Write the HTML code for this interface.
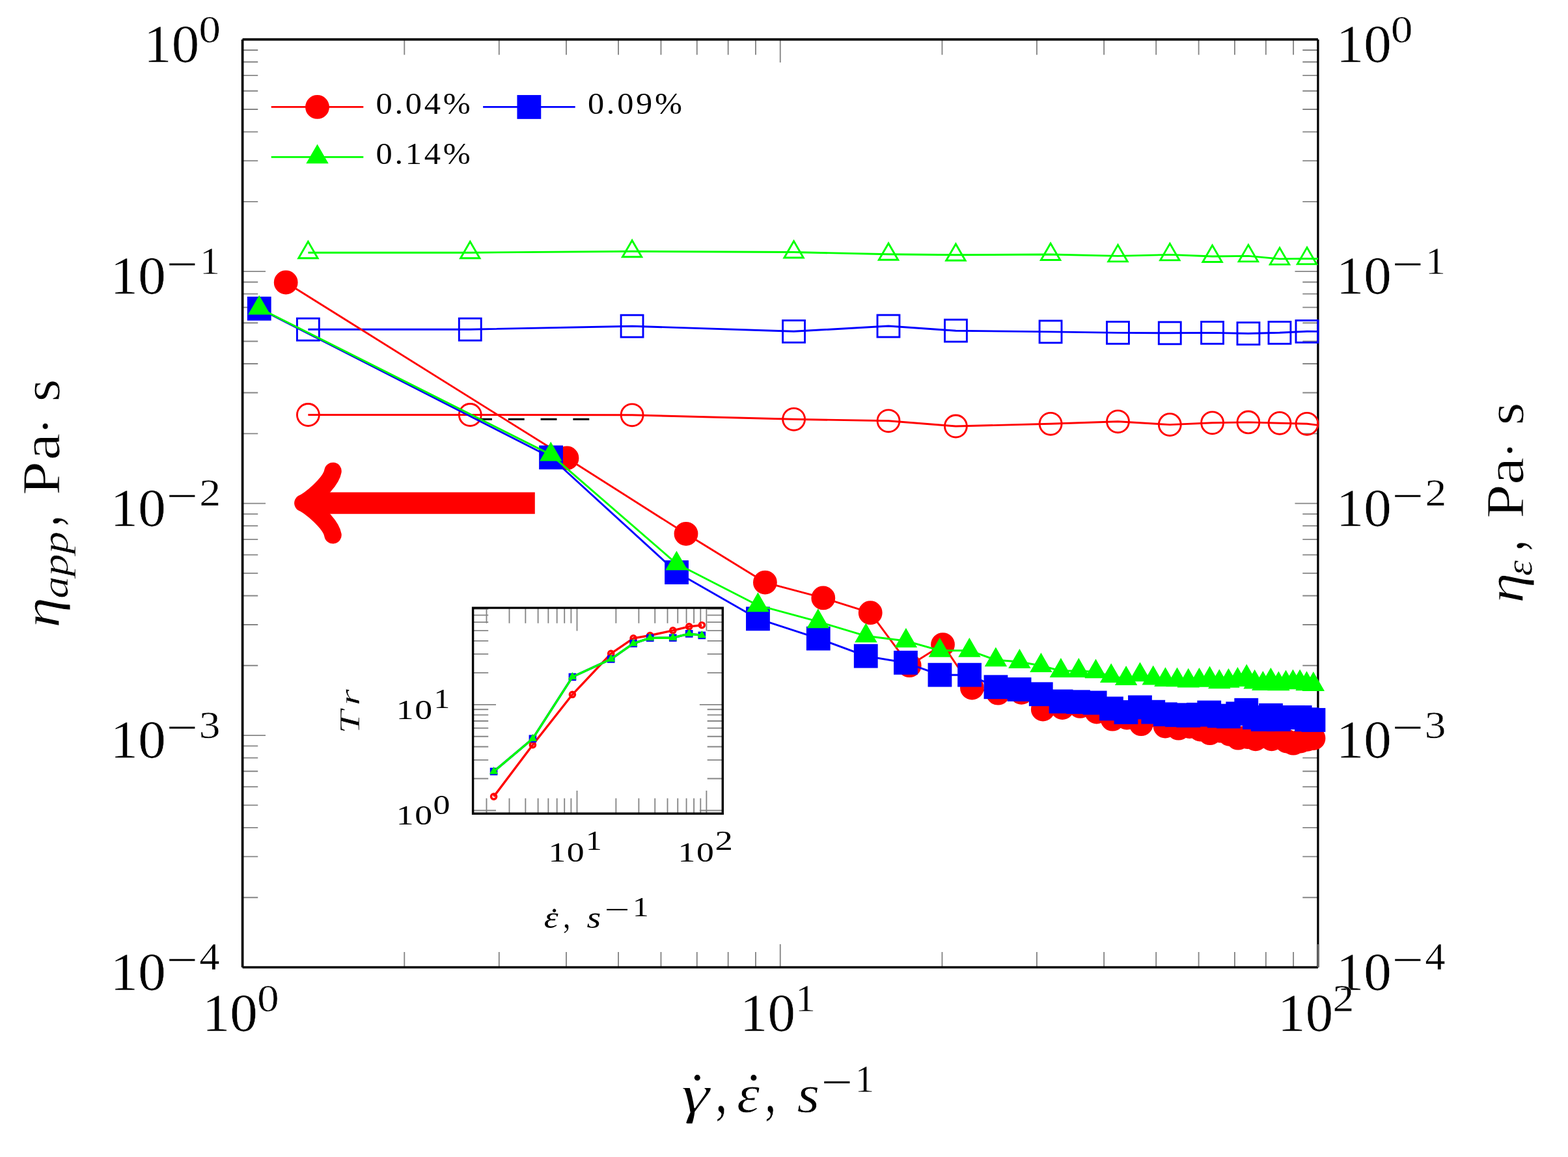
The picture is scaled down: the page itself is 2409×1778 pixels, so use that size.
<!DOCTYPE html>
<html lang="en">
<head>
<meta charset="utf-8">
<title>Apparent shear viscosity and extensional viscosity versus rate</title>
<style>
html,body{margin:0;padding:0;background:#fff;}
body{width:2409px;height:1778px;overflow:hidden;}
svg{display:block;}
text{font-kerning:none;white-space:pre;vector-effect:non-scaling-stroke;paint-order:fill stroke;}
.r{font-family:"Liberation Serif","DejaVu Serif",serif;}
.i{font-family:"Liberation Serif","DejaVu Serif",serif;font-style:italic;}
.d{font-family:"DejaVu Serif","Liberation Serif",serif;}
.di{font-family:"DejaVu Serif","Liberation Serif",serif;font-style:italic;}
</style>
</head>
<body>
<svg width="2409" height="1778" viewBox="0 0 2409 1778">
<defs>
<clipPath id="cm"><rect x="372.60" y="60.70" width="1652.30" height="1425.80"/></clipPath>
</defs>
<rect width="2409" height="1778" fill="#fff"/>
<path d="M372.60,1486.50h35.42M372.60,1130.05h35.42M372.60,773.60h35.42M372.60,417.15h35.42M372.60,60.70h35.42M372.60,1379.20h23.62M372.60,1316.43h23.62M372.60,1271.90h23.62M372.60,1237.35h23.62M372.60,1209.13h23.62M372.60,1185.26h23.62M372.60,1164.59h23.62M372.60,1146.36h23.62M372.60,1022.75h23.62M372.60,959.98h23.62M372.60,915.45h23.62M372.60,880.90h23.62M372.60,852.68h23.62M372.60,828.81h23.62M372.60,808.14h23.62M372.60,789.91h23.62M372.60,666.30h23.62M372.60,603.53h23.62M372.60,559.00h23.62M372.60,524.45h23.62M372.60,496.23h23.62M372.60,472.36h23.62M372.60,451.69h23.62M372.60,433.46h23.62M372.60,309.85h23.62M372.60,247.08h23.62M372.60,202.55h23.62M372.60,168.00h23.62M372.60,139.78h23.62M372.60,115.91h23.62M372.60,95.24h23.62M372.60,77.01h23.62M2024.90,1486.50h-35.42M2024.90,1130.05h-35.42M2024.90,773.60h-35.42M2024.90,417.15h-35.42M2024.90,60.70h-35.42M2024.90,1379.20h-23.62M2024.90,1316.43h-23.62M2024.90,1271.90h-23.62M2024.90,1237.35h-23.62M2024.90,1209.13h-23.62M2024.90,1185.26h-23.62M2024.90,1164.59h-23.62M2024.90,1146.36h-23.62M2024.90,1022.75h-23.62M2024.90,959.98h-23.62M2024.90,915.45h-23.62M2024.90,880.90h-23.62M2024.90,852.68h-23.62M2024.90,828.81h-23.62M2024.90,808.14h-23.62M2024.90,789.91h-23.62M2024.90,666.30h-23.62M2024.90,603.53h-23.62M2024.90,559.00h-23.62M2024.90,524.45h-23.62M2024.90,496.23h-23.62M2024.90,472.36h-23.62M2024.90,451.69h-23.62M2024.90,433.46h-23.62M2024.90,309.85h-23.62M2024.90,247.08h-23.62M2024.90,202.55h-23.62M2024.90,168.00h-23.62M2024.90,139.78h-23.62M2024.90,115.91h-23.62M2024.90,95.24h-23.62M2024.90,77.01h-23.62M372.60,60.70v35.42M1198.75,60.70v35.42M2024.90,60.70v35.42M621.30,60.70v23.62M766.77,60.70v23.62M869.99,60.70v23.62M950.05,60.70v23.62M1015.47,60.70v23.62M1070.78,60.70v23.62M1118.69,60.70v23.62M1160.95,60.70v23.62M1447.45,60.70v23.62M1592.92,60.70v23.62M1696.14,60.70v23.62M1776.20,60.70v23.62M1841.62,60.70v23.62M1896.93,60.70v23.62M1944.84,60.70v23.62M1987.10,60.70v23.62M372.60,1486.50v-35.42M1198.75,1486.50v-35.42M2024.90,1486.50v-35.42M621.30,1486.50v-23.62M766.77,1486.50v-23.62M869.99,1486.50v-23.62M950.05,1486.50v-23.62M1015.47,1486.50v-23.62M1070.78,1486.50v-23.62M1118.69,1486.50v-23.62M1160.95,1486.50v-23.62M1447.45,1486.50v-23.62M1592.92,1486.50v-23.62M1696.14,1486.50v-23.62M1776.20,1486.50v-23.62M1841.62,1486.50v-23.62M1896.93,1486.50v-23.62M1944.84,1486.50v-23.62M1987.10,1486.50v-23.62" stroke="#858585" stroke-width="1.85" fill="none"/>
<path d="M372.60,1486.50V60.70M372.60,60.70H2024.90M2024.90,1486.50H372.60" fill="none" stroke="#000" stroke-width="3.70"/>
<path d="M2024.90,60.70V1486.50" fill="none" stroke="#000" stroke-width="3.30"/>
<path d="M2024.90,1486.50v-35.42" stroke="#6a6a6a" stroke-width="2.32"/>
<polyline clip-path="url(#cm)" points="473.4,637.5 722.3,637.5 971.1,637.8 1219.6,644.3 1365.0,646.8 1468.4,655.0 1614.1,651.3 1717.5,647.8 1797.3,652.6 1862.6,649.8 1917.9,648.9 1966.0,650.3 2008.0,651.3 2046.0,656.0" fill="none" stroke="#ff0000" stroke-width="2.90" stroke-linejoin="round"/>
<g stroke="#ff0000" stroke-width="2.90" stroke-linejoin="miter" stroke-miterlimit="10">
<circle cx="473.4" cy="637.5" r="16.95" fill="none"/>
<circle cx="722.3" cy="637.5" r="16.95" fill="none"/>
<circle cx="971.1" cy="637.8" r="16.95" fill="none"/>
<circle cx="1219.6" cy="644.3" r="16.95" fill="none"/>
<circle cx="1365.0" cy="646.8" r="16.95" fill="none"/>
<circle cx="1468.4" cy="655.0" r="16.95" fill="none"/>
<circle cx="1614.1" cy="651.3" r="16.95" fill="none"/>
<circle cx="1717.5" cy="647.8" r="16.95" fill="none"/>
<circle cx="1797.3" cy="652.6" r="16.95" fill="none"/>
<circle cx="1862.6" cy="649.8" r="16.95" fill="none"/>
<circle cx="1917.9" cy="648.9" r="16.95" fill="none"/>
<circle cx="1966.0" cy="650.3" r="16.95" fill="none"/>
<circle cx="2008.0" cy="651.3" r="16.95" fill="none"/>
</g>
<polyline clip-path="url(#cm)" points="473.4,506.2 722.3,506.2 971.1,501.2 1219.6,509.3 1365.0,501.0 1468.4,508.2 1614.1,509.9 1717.5,511.4 1797.3,511.8 1862.6,511.4 1917.9,512.5 1966.0,511.3 2008.0,509.3 2046.0,509.5" fill="none" stroke="#0000ff" stroke-width="2.90" stroke-linejoin="round"/>
<g stroke="#0000ff" stroke-width="2.90" stroke-linejoin="miter" stroke-miterlimit="10">
<rect x="456.4" y="489.3" width="33.90" height="33.90" fill="none"/>
<rect x="705.3" y="489.3" width="33.90" height="33.90" fill="none"/>
<rect x="954.1" y="484.2" width="33.90" height="33.90" fill="none"/>
<rect x="1202.6" y="492.4" width="33.90" height="33.90" fill="none"/>
<rect x="1348.0" y="484.1" width="33.90" height="33.90" fill="none"/>
<rect x="1451.5" y="491.2" width="33.90" height="33.90" fill="none"/>
<rect x="1597.1" y="492.9" width="33.90" height="33.90" fill="none"/>
<rect x="1700.5" y="494.4" width="33.90" height="33.90" fill="none"/>
<rect x="1780.3" y="494.9" width="33.90" height="33.90" fill="none"/>
<rect x="1845.6" y="494.4" width="33.90" height="33.90" fill="none"/>
<rect x="1901.0" y="495.6" width="33.90" height="33.90" fill="none"/>
<rect x="1949.0" y="494.4" width="33.90" height="33.90" fill="none"/>
<rect x="1991.0" y="492.4" width="33.90" height="33.90" fill="none"/>
</g>
<polyline clip-path="url(#cm)" points="473.4,388.2 722.3,388.2 971.1,386.3 1219.6,387.5 1365.0,390.8 1468.4,391.8 1614.1,391.0 1717.5,393.4 1797.3,391.4 1862.6,394.0 1917.9,393.4 1966.0,397.9 2008.0,397.4 2046.0,398.0" fill="none" stroke="#00ff00" stroke-width="2.90" stroke-linejoin="round"/>
<g stroke="#00ff00" stroke-width="2.90" stroke-linejoin="miter" stroke-miterlimit="10">
<polygon points="473.4,371.3 458.7,396.7 488.1,396.7" fill="none"/>
<polygon points="722.3,371.3 707.6,396.7 737.0,396.7" fill="none"/>
<polygon points="971.1,369.4 956.4,394.8 985.8,394.8" fill="none"/>
<polygon points="1219.6,370.6 1204.9,396.0 1234.3,396.0" fill="none"/>
<polygon points="1365.0,373.9 1350.3,399.3 1379.7,399.3" fill="none"/>
<polygon points="1468.4,374.9 1453.7,400.3 1483.1,400.3" fill="none"/>
<polygon points="1614.1,374.1 1599.4,399.5 1628.8,399.5" fill="none"/>
<polygon points="1717.5,376.4 1702.8,401.9 1732.2,401.9" fill="none"/>
<polygon points="1797.3,374.4 1782.6,399.9 1812.0,399.9" fill="none"/>
<polygon points="1862.6,377.1 1847.9,402.5 1877.3,402.5" fill="none"/>
<polygon points="1917.9,376.4 1903.2,401.9 1932.6,401.9" fill="none"/>
<polygon points="1966.0,380.9 1951.3,406.4 1980.7,406.4" fill="none"/>
<polygon points="2008.0,380.4 1993.3,405.9 2022.7,405.9" fill="none"/>
</g>
<path d="M731,644.2H905.4" stroke="#000" stroke-width="2.90" stroke-dasharray="24.9 24.9" fill="none"/>
<polyline points="439.2,434.0 871.0,704.0 1054.0,820.3 1175.4,895.1 1264.8,918.9 1337.2,941.7 1397.2,1022.7 1448.5,990.6 1493.4,1057.0 1533.3,1065.2 1569.3,1064.3 1602.3,1090.0 1632.2,1087.6 1659.5,1085.4 1684.8,1094.0 1709.2,1105.2 1731.2,1103.1 1753.2,1112.7 1773.0,1099.0 1790.2,1116.0 1810.6,1119.2 1827.5,1116.5 1844.0,1121.0 1858.8,1126.7 1874.5,1123.0 1889.0,1128.3 1902.2,1134.2 1916.5,1132.5 1929.0,1135.8 1941.5,1131.0 1953.7,1135.8 1965.5,1133.0 1976.7,1139.0 1987.0,1142.2 1998.2,1139.0 2008.6,1136.3 2018.0,1134.5" fill="none" stroke="#ff0000" stroke-width="2.90" stroke-linejoin="round"/>
<g stroke="#ff0000" stroke-width="2.90" stroke-linejoin="miter" stroke-miterlimit="10">
<circle cx="439.2" cy="434.0" r="16.95" fill="#ff0000"/>
<circle cx="871.0" cy="704.0" r="16.95" fill="#ff0000"/>
<circle cx="1054.0" cy="820.3" r="16.95" fill="#ff0000"/>
<circle cx="1175.4" cy="895.1" r="16.95" fill="#ff0000"/>
<circle cx="1264.8" cy="918.9" r="16.95" fill="#ff0000"/>
<circle cx="1337.2" cy="941.7" r="16.95" fill="#ff0000"/>
<circle cx="1397.2" cy="1022.7" r="16.95" fill="#ff0000"/>
<circle cx="1448.5" cy="990.6" r="16.95" fill="#ff0000"/>
<circle cx="1493.4" cy="1057.0" r="16.95" fill="#ff0000"/>
<circle cx="1533.3" cy="1065.2" r="16.95" fill="#ff0000"/>
<circle cx="1569.3" cy="1064.3" r="16.95" fill="#ff0000"/>
<circle cx="1602.3" cy="1090.0" r="16.95" fill="#ff0000"/>
<circle cx="1632.2" cy="1087.6" r="16.95" fill="#ff0000"/>
<circle cx="1659.5" cy="1085.4" r="16.95" fill="#ff0000"/>
<circle cx="1684.8" cy="1094.0" r="16.95" fill="#ff0000"/>
<circle cx="1709.2" cy="1105.2" r="16.95" fill="#ff0000"/>
<circle cx="1731.2" cy="1103.1" r="16.95" fill="#ff0000"/>
<circle cx="1753.2" cy="1112.7" r="16.95" fill="#ff0000"/>
<circle cx="1773.0" cy="1099.0" r="16.95" fill="#ff0000"/>
<circle cx="1790.2" cy="1116.0" r="16.95" fill="#ff0000"/>
<circle cx="1810.6" cy="1119.2" r="16.95" fill="#ff0000"/>
<circle cx="1827.5" cy="1116.5" r="16.95" fill="#ff0000"/>
<circle cx="1844.0" cy="1121.0" r="16.95" fill="#ff0000"/>
<circle cx="1858.8" cy="1126.7" r="16.95" fill="#ff0000"/>
<circle cx="1874.5" cy="1123.0" r="16.95" fill="#ff0000"/>
<circle cx="1889.0" cy="1128.3" r="16.95" fill="#ff0000"/>
<circle cx="1902.2" cy="1134.2" r="16.95" fill="#ff0000"/>
<circle cx="1916.5" cy="1132.5" r="16.95" fill="#ff0000"/>
<circle cx="1929.0" cy="1135.8" r="16.95" fill="#ff0000"/>
<circle cx="1941.5" cy="1131.0" r="16.95" fill="#ff0000"/>
<circle cx="1953.7" cy="1135.8" r="16.95" fill="#ff0000"/>
<circle cx="1965.5" cy="1133.0" r="16.95" fill="#ff0000"/>
<circle cx="1976.7" cy="1139.0" r="16.95" fill="#ff0000"/>
<circle cx="1987.0" cy="1142.2" r="16.95" fill="#ff0000"/>
<circle cx="1998.2" cy="1139.0" r="16.95" fill="#ff0000"/>
<circle cx="2008.6" cy="1136.3" r="16.95" fill="#ff0000"/>
<circle cx="2018.0" cy="1134.5" r="16.95" fill="#ff0000"/>
</g>
<polyline points="398.2,474.2 846.6,703.0 1039.6,879.6 1164.5,950.9 1257.3,981.2 1330.3,1008.2 1391.5,1018.4 1443.9,1037.2 1489.6,1037.2 1530.0,1055.7 1566.1,1059.5 1599.3,1066.7 1630.1,1078.0 1656.4,1078.7 1682.2,1080.0 1707.4,1089.0 1729.9,1094.5 1751.5,1086.9 1771.7,1094.2 1790.3,1097.7 1808.5,1098.7 1825.7,1099.5 1841.5,1098.3 1857.7,1095.0 1873.3,1100.1 1887.5,1100.9 1901.7,1096.7 1914.8,1091.3 1927.6,1102.5 1940.3,1105.5 1952.5,1099.3 1964.4,1105.5 1975.5,1102.5 1986.4,1102.5 1997.2,1102.5 2007.5,1105.7 2018.0,1106.5" fill="none" stroke="#0000ff" stroke-width="2.90" stroke-linejoin="round"/>
<g stroke="#0000ff" stroke-width="2.90" stroke-linejoin="miter" stroke-miterlimit="10">
<rect x="381.3" y="457.3" width="33.90" height="33.90" fill="#0000ff"/>
<rect x="829.6" y="686.0" width="33.90" height="33.90" fill="#0000ff"/>
<rect x="1022.6" y="862.6" width="33.90" height="33.90" fill="#0000ff"/>
<rect x="1147.5" y="933.9" width="33.90" height="33.90" fill="#0000ff"/>
<rect x="1240.3" y="964.2" width="33.90" height="33.90" fill="#0000ff"/>
<rect x="1313.3" y="991.2" width="33.90" height="33.90" fill="#0000ff"/>
<rect x="1374.5" y="1001.4" width="33.90" height="33.90" fill="#0000ff"/>
<rect x="1427.0" y="1020.2" width="33.90" height="33.90" fill="#0000ff"/>
<rect x="1472.6" y="1020.2" width="33.90" height="33.90" fill="#0000ff"/>
<rect x="1513.0" y="1038.8" width="33.90" height="33.90" fill="#0000ff"/>
<rect x="1549.1" y="1042.5" width="33.90" height="33.90" fill="#0000ff"/>
<rect x="1582.3" y="1049.8" width="33.90" height="33.90" fill="#0000ff"/>
<rect x="1613.1" y="1061.0" width="33.90" height="33.90" fill="#0000ff"/>
<rect x="1639.5" y="1061.8" width="33.90" height="33.90" fill="#0000ff"/>
<rect x="1665.2" y="1063.0" width="33.90" height="33.90" fill="#0000ff"/>
<rect x="1690.5" y="1072.0" width="33.90" height="33.90" fill="#0000ff"/>
<rect x="1713.0" y="1077.5" width="33.90" height="33.90" fill="#0000ff"/>
<rect x="1734.5" y="1070.0" width="33.90" height="33.90" fill="#0000ff"/>
<rect x="1754.8" y="1077.2" width="33.90" height="33.90" fill="#0000ff"/>
<rect x="1773.3" y="1080.8" width="33.90" height="33.90" fill="#0000ff"/>
<rect x="1791.5" y="1081.8" width="33.90" height="33.90" fill="#0000ff"/>
<rect x="1808.8" y="1082.5" width="33.90" height="33.90" fill="#0000ff"/>
<rect x="1824.5" y="1081.3" width="33.90" height="33.90" fill="#0000ff"/>
<rect x="1840.8" y="1078.0" width="33.90" height="33.90" fill="#0000ff"/>
<rect x="1856.3" y="1083.1" width="33.90" height="33.90" fill="#0000ff"/>
<rect x="1870.5" y="1084.0" width="33.90" height="33.90" fill="#0000ff"/>
<rect x="1884.8" y="1079.8" width="33.90" height="33.90" fill="#0000ff"/>
<rect x="1897.8" y="1074.3" width="33.90" height="33.90" fill="#0000ff"/>
<rect x="1910.6" y="1085.5" width="33.90" height="33.90" fill="#0000ff"/>
<rect x="1923.3" y="1088.5" width="33.90" height="33.90" fill="#0000ff"/>
<rect x="1935.5" y="1082.3" width="33.90" height="33.90" fill="#0000ff"/>
<rect x="1947.5" y="1088.5" width="33.90" height="33.90" fill="#0000ff"/>
<rect x="1958.5" y="1085.5" width="33.90" height="33.90" fill="#0000ff"/>
<rect x="1969.5" y="1085.5" width="33.90" height="33.90" fill="#0000ff"/>
<rect x="1980.2" y="1085.5" width="33.90" height="33.90" fill="#0000ff"/>
<rect x="1990.5" y="1088.8" width="33.90" height="33.90" fill="#0000ff"/>
<rect x="2001.0" y="1089.5" width="33.90" height="33.90" fill="#0000ff"/>
</g>
<polyline points="398.2,473.5 846.2,698.6 1039.5,866.3 1164.4,930.2 1256.8,955.2 1330.4,977.3 1391.9,985.0 1443.8,999.7 1489.4,999.7 1529.9,1014.3 1566.4,1017.0 1599.4,1023.0 1629.9,1031.0 1657.3,1031.0 1683.5,1032.4 1707.1,1039.1 1730.1,1043.0 1751.5,1037.3 1771.7,1042.5 1790.4,1045.1 1808.5,1045.4 1825.7,1046.6 1842.5,1045.7 1858.5,1043.5 1873.3,1048.2 1887.5,1046.8 1901.4,1045.0 1915.2,1040.5 1927.6,1048.6 1940.3,1051.0 1952.4,1045.7 1964.4,1051.3 1975.5,1049.4 1986.4,1048.4 1997.1,1048.4 2007.5,1051.2 2017.8,1052.0" fill="none" stroke="#00ff00" stroke-width="2.90" stroke-linejoin="round"/>
<g stroke="#00ff00" stroke-width="2.90" stroke-linejoin="miter" stroke-miterlimit="10">
<polygon points="398.2,456.6 383.6,482.0 412.9,482.0" fill="#00ff00"/>
<polygon points="846.2,681.6 831.6,707.1 860.9,707.1" fill="#00ff00"/>
<polygon points="1039.5,849.3 1024.8,874.8 1054.2,874.8" fill="#00ff00"/>
<polygon points="1164.4,913.2 1149.7,938.7 1179.1,938.7" fill="#00ff00"/>
<polygon points="1256.8,938.2 1242.1,963.7 1271.5,963.7" fill="#00ff00"/>
<polygon points="1330.4,960.3 1315.7,985.8 1345.1,985.8" fill="#00ff00"/>
<polygon points="1391.9,968.0 1377.2,993.5 1406.6,993.5" fill="#00ff00"/>
<polygon points="1443.8,982.8 1429.1,1008.2 1458.5,1008.2" fill="#00ff00"/>
<polygon points="1489.4,982.8 1474.7,1008.2 1504.1,1008.2" fill="#00ff00"/>
<polygon points="1529.9,997.3 1515.2,1022.8 1544.6,1022.8" fill="#00ff00"/>
<polygon points="1566.4,1000.0 1551.7,1025.5 1581.1,1025.5" fill="#00ff00"/>
<polygon points="1599.4,1006.0 1584.7,1031.5 1614.1,1031.5" fill="#00ff00"/>
<polygon points="1629.9,1014.0 1615.2,1039.5 1644.6,1039.5" fill="#00ff00"/>
<polygon points="1657.3,1014.0 1642.6,1039.5 1672.0,1039.5" fill="#00ff00"/>
<polygon points="1683.5,1015.5 1668.8,1040.9 1698.2,1040.9" fill="#00ff00"/>
<polygon points="1707.1,1022.1 1692.4,1047.6 1721.8,1047.6" fill="#00ff00"/>
<polygon points="1730.1,1026.0 1715.4,1051.5 1744.8,1051.5" fill="#00ff00"/>
<polygon points="1751.5,1020.3 1736.8,1045.8 1766.2,1045.8" fill="#00ff00"/>
<polygon points="1771.7,1025.5 1757.0,1051.0 1786.4,1051.0" fill="#00ff00"/>
<polygon points="1790.4,1028.1 1775.7,1053.6 1805.1,1053.6" fill="#00ff00"/>
<polygon points="1808.5,1028.5 1793.8,1053.9 1823.2,1053.9" fill="#00ff00"/>
<polygon points="1825.7,1029.6 1811.0,1055.1 1840.4,1055.1" fill="#00ff00"/>
<polygon points="1842.5,1028.8 1827.8,1054.2 1857.2,1054.2" fill="#00ff00"/>
<polygon points="1858.5,1026.5 1843.8,1052.0 1873.2,1052.0" fill="#00ff00"/>
<polygon points="1873.3,1031.2 1858.6,1056.7 1888.0,1056.7" fill="#00ff00"/>
<polygon points="1887.5,1029.8 1872.8,1055.3 1902.2,1055.3" fill="#00ff00"/>
<polygon points="1901.4,1028.0 1886.7,1053.5 1916.1,1053.5" fill="#00ff00"/>
<polygon points="1915.2,1023.5 1900.5,1049.0 1929.9,1049.0" fill="#00ff00"/>
<polygon points="1927.6,1031.6 1912.9,1057.1 1942.3,1057.1" fill="#00ff00"/>
<polygon points="1940.3,1034.0 1925.6,1059.5 1955.0,1059.5" fill="#00ff00"/>
<polygon points="1952.4,1028.8 1937.7,1054.2 1967.1,1054.2" fill="#00ff00"/>
<polygon points="1964.4,1034.3 1949.7,1059.8 1979.1,1059.8" fill="#00ff00"/>
<polygon points="1975.5,1032.5 1960.8,1057.9 1990.2,1057.9" fill="#00ff00"/>
<polygon points="1986.4,1031.5 1971.7,1056.9 2001.1,1056.9" fill="#00ff00"/>
<polygon points="1997.1,1031.5 1982.4,1056.9 2011.8,1056.9" fill="#00ff00"/>
<polygon points="2007.5,1034.2 1992.8,1059.7 2022.2,1059.7" fill="#00ff00"/>
<polygon points="2017.8,1035.0 2003.1,1060.5 2032.5,1060.5" fill="#00ff00"/>
</g>
<path d="M821.8,773.1H472.6" stroke="#ff0000" stroke-width="33.20" fill="none"/>
<path d="M511.45,723.96C508.37,742.39 474.59,770.03 465.38,773.10C474.59,776.17 508.37,803.81 511.45,822.24" stroke="#ff0000" stroke-width="26.56" fill="none" stroke-linecap="round" stroke-linejoin="round"/>
<path d="M416.7,164.4h141.6" stroke="#ff0000" stroke-width="2.90" fill="none"/>
<g stroke="#ff0000" stroke-width="2.90"><circle cx="487.5" cy="164.4" r="16.95" fill="#ff0000"/></g>
<path d="M742.1,164.4h141.6" stroke="#0000ff" stroke-width="2.90" fill="none"/>
<g stroke="#0000ff" stroke-width="2.90"><rect x="795.9" y="147.5" width="33.90" height="33.90" fill="#0000ff"/></g>
<path d="M416.7,241.4h141.6" stroke="#00ff00" stroke-width="2.90" fill="none"/>
<g stroke="#00ff00" stroke-width="2.90"><polygon points="487.5,224.5 472.8,249.9 502.2,249.9" fill="#00ff00"/></g>
<text class="r" transform="translate(577.58,174.90) scale(1.0736,1.0000)" font-size="47.00" letter-spacing="3.45" fill="#000">0.04%</text>
<text class="r" transform="translate(902.98,174.90) scale(1.0720,1.0000)" font-size="47.00" letter-spacing="3.45" fill="#000">0.09%</text>
<text class="r" transform="translate(577.58,251.60) scale(1.0736,1.0000)" font-size="47.00" letter-spacing="3.45" fill="#000">0.14%</text>
<path d="M726.60,1245.50h35.42M726.60,1082.80h35.42M726.60,1196.52h23.62M726.60,1167.87h23.62M726.60,1147.54h23.62M726.60,1131.78h23.62M726.60,1118.89h23.62M726.60,1108.00h23.62M726.60,1098.57h23.62M726.60,1090.24h23.62M726.60,1033.82h23.62M726.60,1005.17h23.62M726.60,984.84h23.62M726.60,969.08h23.62M726.60,956.19h23.62M726.60,945.30h23.62M726.60,935.87h23.62M1110.30,1245.50h-35.42M1110.30,1082.80h-35.42M1110.30,1196.52h-23.62M1110.30,1167.87h-23.62M1110.30,1147.54h-23.62M1110.30,1131.78h-23.62M1110.30,1118.89h-23.62M1110.30,1108.00h-23.62M1110.30,1098.57h-23.62M1110.30,1090.24h-23.62M1110.30,1033.82h-23.62M1110.30,1005.17h-23.62M1110.30,984.84h-23.62M1110.30,969.08h-23.62M1110.30,956.19h-23.62M1110.30,945.30h-23.62M1110.30,935.87h-23.62M886.50,934.10v35.42M1085.40,934.10v35.42M747.47,934.10v23.62M782.50,934.10v23.62M807.35,934.10v23.62M826.63,934.10v23.62M842.37,934.10v23.62M855.69,934.10v23.62M867.22,934.10v23.62M877.40,934.10v23.62M946.37,934.10v23.62M981.40,934.10v23.62M1006.25,934.10v23.62M1025.53,934.10v23.62M1041.27,934.10v23.62M1054.59,934.10v23.62M1066.12,934.10v23.62M1076.30,934.10v23.62M886.50,1250.30v-35.42M1085.40,1250.30v-35.42M747.47,1250.30v-23.62M782.50,1250.30v-23.62M807.35,1250.30v-23.62M826.63,1250.30v-23.62M842.37,1250.30v-23.62M855.69,1250.30v-23.62M867.22,1250.30v-23.62M877.40,1250.30v-23.62M946.37,1250.30v-23.62M981.40,1250.30v-23.62M1006.25,1250.30v-23.62M1025.53,1250.30v-23.62M1041.27,1250.30v-23.62M1054.59,1250.30v-23.62M1066.12,1250.30v-23.62M1076.30,1250.30v-23.62" stroke="#858585" stroke-width="1.85" fill="none"/>
<path d="M726.60,1250.30V934.10M726.60,934.10H1110.30M1110.30,934.10V1250.30M1110.30,1250.30H726.60" fill="none" stroke="#000" stroke-width="3.40" stroke-linecap="square"/>
<polyline points="758.6,1224.1 818.4,1144.7 879.4,1067.3 938.7,1004.4 973.1,980.9 998.7,976.5 1033.8,968.9 1058.7,962.9 1078.3,960.7" fill="none" stroke="#ff0000" stroke-width="3.40" stroke-linejoin="round"/>
<g stroke="#ff0000" stroke-width="3.40" stroke-linejoin="miter" stroke-miterlimit="10">
<circle cx="758.6" cy="1224.1" r="4.11" fill="none"/>
<circle cx="818.4" cy="1144.7" r="4.11" fill="none"/>
<circle cx="879.4" cy="1067.3" r="4.11" fill="none"/>
<circle cx="938.7" cy="1004.4" r="4.11" fill="none"/>
<circle cx="973.1" cy="980.9" r="4.11" fill="none"/>
<circle cx="998.7" cy="976.5" r="4.11" fill="none"/>
<circle cx="1033.8" cy="968.9" r="4.11" fill="none"/>
<circle cx="1058.7" cy="962.9" r="4.11" fill="none"/>
<circle cx="1078.3" cy="960.7" r="4.11" fill="none"/>
</g>
<polyline points="758.6,1185.6 818.4,1135.2 879.4,1040.3 938.7,1012.9 973.1,988.9 998.7,980.4 1033.8,980.2 1058.7,973.9 1078.3,976.4" fill="none" stroke="#0000ff" stroke-width="3.40" stroke-linejoin="round"/>
<g stroke="#0000ff" stroke-width="3.40" stroke-linejoin="miter" stroke-miterlimit="10">
<rect x="754.5" y="1181.5" width="8.22" height="8.22" fill="#0000ff"/>
<rect x="814.3" y="1131.1" width="8.22" height="8.22" fill="#0000ff"/>
<rect x="875.3" y="1036.2" width="8.22" height="8.22" fill="#0000ff"/>
<rect x="934.6" y="1008.8" width="8.22" height="8.22" fill="#0000ff"/>
<rect x="969.0" y="984.8" width="8.22" height="8.22" fill="#0000ff"/>
<rect x="994.6" y="976.3" width="8.22" height="8.22" fill="#0000ff"/>
<rect x="1029.7" y="976.1" width="8.22" height="8.22" fill="#0000ff"/>
<rect x="1054.6" y="969.8" width="8.22" height="8.22" fill="#0000ff"/>
<rect x="1074.2" y="972.3" width="8.22" height="8.22" fill="#0000ff"/>
</g>
<polyline points="758.6,1185.6 818.4,1135.2 879.4,1040.3 938.7,1012.9 973.1,988.9 998.7,980.4 1033.8,980.2 1058.7,973.9 1078.3,976.4" fill="none" stroke="#00ff00" stroke-width="3.40" stroke-linejoin="round"/>
<g stroke="#00ff00" stroke-width="3.40" stroke-linejoin="miter" stroke-miterlimit="10">
<polygon points="758.6,1181.5 755.0,1187.7 762.2,1187.7" fill="#00ff00"/>
<polygon points="818.4,1131.1 814.8,1137.3 822.0,1137.3" fill="#00ff00"/>
<polygon points="879.4,1036.2 875.8,1042.4 883.0,1042.4" fill="#00ff00"/>
<polygon points="938.7,1008.8 935.1,1015.0 942.3,1015.0" fill="#00ff00"/>
<polygon points="973.1,984.8 969.5,991.0 976.7,991.0" fill="#00ff00"/>
<polygon points="998.7,976.3 995.1,982.5 1002.3,982.5" fill="#00ff00"/>
<polygon points="1033.8,976.1 1030.2,982.3 1037.4,982.3" fill="#00ff00"/>
<polygon points="1058.7,969.8 1055.1,976.0 1062.3,976.0" fill="#00ff00"/>
<polygon points="1078.3,972.3 1074.7,978.5 1081.9,978.5" fill="#00ff00"/>
</g>
<g><text class="r" transform="translate(221.03,94.70) scale(1.0296,1.0000)" font-size="82.50" letter-spacing="0.16" fill="#000" stroke="#fff" stroke-width="0.45">10</text><text class="r" transform="translate(305.46,64.50) scale(1.1129,1.0000)" font-size="60.00" fill="#000" stroke="#fff" stroke-width="0.45">0</text></g>
<g><text class="r" transform="translate(169.53,451.15) scale(1.0296,1.0000)" font-size="82.50" letter-spacing="0.16" fill="#000" stroke="#fff" stroke-width="0.45">10</text><text class="r" transform="translate(255.90,425.57) scale(1.4040,1)" font-size="60.00">−</text><text class="r" transform="translate(307.23,420.95) scale(1.0178,1.0000)" font-size="60.00" fill="#000" stroke="#fff" stroke-width="0.45">1</text></g>
<g><text class="r" transform="translate(169.53,807.60) scale(1.0296,1.0000)" font-size="82.50" letter-spacing="0.16" fill="#000" stroke="#fff" stroke-width="0.45">10</text><text class="r" transform="translate(255.90,782.02) scale(1.4040,1)" font-size="60.00">−</text><text class="r" transform="translate(306.32,777.40) scale(1.0934,1.0000)" font-size="60.00" fill="#000" stroke="#fff" stroke-width="0.45">2</text></g>
<g><text class="r" transform="translate(169.53,1164.05) scale(1.0296,1.0000)" font-size="82.50" letter-spacing="0.16" fill="#000" stroke="#fff" stroke-width="0.45">10</text><text class="r" transform="translate(255.90,1138.47) scale(1.4040,1)" font-size="60.00">−</text><text class="r" transform="translate(305.67,1133.85) scale(1.0894,1.0000)" font-size="60.00" fill="#000" stroke="#fff" stroke-width="0.45">3</text></g>
<g><text class="r" transform="translate(169.53,1520.50) scale(1.0296,1.0000)" font-size="82.50" letter-spacing="0.16" fill="#000" stroke="#fff" stroke-width="0.45">10</text><text class="r" transform="translate(255.90,1494.92) scale(1.4040,1)" font-size="60.00">−</text><text class="r" transform="translate(306.39,1490.30) scale(1.0326,1.0000)" font-size="60.00" fill="#000" stroke="#fff" stroke-width="0.45">4</text></g>
<g><text class="r" transform="translate(2052.63,94.70) scale(1.0296,1.0000)" font-size="82.50" letter-spacing="0.16" fill="#000" stroke="#fff" stroke-width="0.45">10</text><text class="r" transform="translate(2137.06,64.50) scale(1.1129,1.0000)" font-size="60.00" fill="#000" stroke="#fff" stroke-width="0.45">0</text></g>
<g><text class="r" transform="translate(2052.63,451.15) scale(1.0296,1.0000)" font-size="82.50" letter-spacing="0.16" fill="#000" stroke="#fff" stroke-width="0.45">10</text><text class="r" transform="translate(2139.00,425.57) scale(1.4040,1)" font-size="60.00">−</text><text class="r" transform="translate(2190.33,420.95) scale(1.0178,1.0000)" font-size="60.00" fill="#000" stroke="#fff" stroke-width="0.45">1</text></g>
<g><text class="r" transform="translate(2052.63,807.60) scale(1.0296,1.0000)" font-size="82.50" letter-spacing="0.16" fill="#000" stroke="#fff" stroke-width="0.45">10</text><text class="r" transform="translate(2139.00,782.02) scale(1.4040,1)" font-size="60.00">−</text><text class="r" transform="translate(2189.42,777.40) scale(1.0934,1.0000)" font-size="60.00" fill="#000" stroke="#fff" stroke-width="0.45">2</text></g>
<g><text class="r" transform="translate(2052.63,1164.05) scale(1.0296,1.0000)" font-size="82.50" letter-spacing="0.16" fill="#000" stroke="#fff" stroke-width="0.45">10</text><text class="r" transform="translate(2139.00,1138.47) scale(1.4040,1)" font-size="60.00">−</text><text class="r" transform="translate(2188.77,1133.85) scale(1.0894,1.0000)" font-size="60.00" fill="#000" stroke="#fff" stroke-width="0.45">3</text></g>
<g><text class="r" transform="translate(2052.63,1520.50) scale(1.0296,1.0000)" font-size="82.50" letter-spacing="0.16" fill="#000" stroke="#fff" stroke-width="0.45">10</text><text class="r" transform="translate(2139.00,1494.92) scale(1.4040,1)" font-size="60.00">−</text><text class="r" transform="translate(2189.49,1490.30) scale(1.0326,1.0000)" font-size="60.00" fill="#000" stroke="#fff" stroke-width="0.45">4</text></g>
<g><text class="r" transform="translate(310.73,1584.10) scale(1.0296,1.0000)" font-size="82.50" letter-spacing="0.16" fill="#000" stroke="#fff" stroke-width="0.45">10</text><text class="r" transform="translate(395.16,1553.90) scale(1.1129,1.0000)" font-size="60.00" fill="#000" stroke="#fff" stroke-width="0.45">0</text></g>
<g><text class="r" transform="translate(1136.83,1584.10) scale(1.0296,1.0000)" font-size="82.50" letter-spacing="0.16" fill="#000" stroke="#fff" stroke-width="0.45">10</text><text class="r" transform="translate(1222.23,1553.90) scale(1.0178,1.0000)" font-size="60.00" fill="#000" stroke="#fff" stroke-width="0.45">1</text></g>
<g><text class="r" transform="translate(1963.03,1584.10) scale(1.0296,1.0000)" font-size="82.50" letter-spacing="0.16" fill="#000" stroke="#fff" stroke-width="0.45">10</text><text class="r" transform="translate(2047.52,1553.90) scale(1.0934,1.0000)" font-size="60.00" fill="#000" stroke="#fff" stroke-width="0.45">2</text></g>
<g><text class="i" transform="translate(1046.60,1709.00) scale(1.3321,1.0000)" font-size="83.00" fill="#000" stroke="#fff" stroke-width="1.20">γ</text><text class="r" transform="translate(1056.17,1712.01)" font-size="90.00" fill="#000" stroke="#fff" stroke-width="0.45">˙</text><text class="r" transform="translate(1099.16,1709.00) scale(0.7484,1.0000)" font-size="96.00" fill="#000" stroke="#fff" stroke-width="0.45">, </text><text class="i" transform="translate(1132.09,1709.00) scale(1.0732,1.0000)" font-size="83.00" fill="#000" stroke="#fff" stroke-width="0.80">ε</text><text class="r" transform="translate(1142.87,1712.01)" font-size="90.00" fill="#000" stroke="#fff" stroke-width="0.45">˙</text><text class="r" transform="translate(1175.19,1709.00) scale(0.7134,1.0000)" font-size="96.00" fill="#000" stroke="#fff" stroke-width="0.45">, </text><text class="i" transform="translate(1224.51,1709.00) scale(1.0739,1.0000)" font-size="83.00" fill="#000" stroke="#fff" stroke-width="0.80">s</text><text class="r" transform="translate(1262.09,1683.32) scale(1.4076,1)" font-size="60.00">−</text><text class="r" transform="translate(1313.86,1678.30) scale(0.9752,1.0000)" font-size="60.00" fill="#000" stroke="#fff" stroke-width="0.45">1</text></g>
<g><text class="i" transform="translate(90.80,964.89) rotate(-90) scale(1.1758,1.0000)" font-size="81.00" fill="#000" stroke="#fff" stroke-width="1.00">η</text><text class="i" transform="translate(103.50,919.95) rotate(-90) scale(1.2086,1.0000)" font-size="57.00" fill="#000" stroke="#fff" stroke-width="0.60">app</text><text class="r" transform="translate(90.80,808.48) rotate(-90) scale(0.6785,1.0000)" font-size="96.00" fill="#000" stroke="#fff" stroke-width="0.45">, </text><text class="r" transform="translate(90.80,761.09) rotate(-90) scale(1.1187,1.0000)" font-size="83.50" letter-spacing="1.75" fill="#000" stroke="#fff" stroke-width="1.00">Pa</text><text class="r" transform="translate(94.10,667.46) rotate(-90)" font-size="75.00" fill="#000" stroke="#fff" stroke-width="0.45">· </text><text class="r" transform="translate(90.80,617.58) rotate(-90) scale(1.1148,1.0000)" font-size="80.50" fill="#000" stroke="#fff" stroke-width="0.90">s</text></g>
<g><text class="i" transform="translate(2340.30,927.06) rotate(-90) scale(1.1640,1.0000)" font-size="81.00" fill="#000" stroke="#fff" stroke-width="1.00">η</text><text class="i" transform="translate(2353.00,884.91) rotate(-90) scale(1.0670,1.0000)" font-size="57.00" fill="#000" stroke="#fff" stroke-width="0.50">ε</text><text class="r" transform="translate(2340.30,846.48) rotate(-90) scale(0.6785,1.0000)" font-size="96.00" fill="#000" stroke="#fff" stroke-width="0.45">, </text><text class="r" transform="translate(2340.30,796.73) rotate(-90) scale(1.1339,1.0000)" font-size="83.50" letter-spacing="-0.58" fill="#000" stroke="#fff" stroke-width="1.00">Pa</text><text class="r" transform="translate(2343.60,704.36) rotate(-90)" font-size="75.00" fill="#000" stroke="#fff" stroke-width="0.45">· </text><text class="r" transform="translate(2340.30,653.38) rotate(-90) scale(1.1148,1.0000)" font-size="80.50" fill="#000" stroke="#fff" stroke-width="0.90">s</text></g>
<g><text class="r" transform="translate(608.87,1104.50) scale(1.2511,1.0000)" font-size="43.00" letter-spacing="1.18" fill="#000">10</text><text class="r" transform="translate(666.46,1088.00) scale(1.1494,1.0000)" font-size="43.00" fill="#000">1</text></g>
<g><text class="r" transform="translate(608.87,1267.40) scale(1.2511,1.0000)" font-size="43.00" letter-spacing="1.18" fill="#000">10</text><text class="r" transform="translate(665.62,1250.90) scale(1.2072,1.0000)" font-size="43.00" fill="#000">0</text></g>
<g><text class="r" transform="translate(842.47,1323.60) scale(1.2511,1.0000)" font-size="43.00" letter-spacing="1.18" fill="#000">10</text><text class="r" transform="translate(900.06,1306.00) scale(1.1494,1.0000)" font-size="43.00" fill="#000">1</text></g>
<g><text class="r" transform="translate(1041.57,1323.60) scale(1.2511,1.0000)" font-size="43.00" letter-spacing="1.18" fill="#000">10</text><text class="r" transform="translate(1098.59,1306.00) scale(1.2763,1.0000)" font-size="43.00" fill="#000">2</text></g>
<g><text class="i" transform="translate(551.90,1127.64) rotate(-90) scale(1.4739,1.0000)" font-size="44.00" letter-spacing="4.92" fill="#000" stroke="#fff" stroke-width="0.60">Tr</text></g>
<g><text class="i" transform="translate(835.71,1425.60) scale(1.1550,1.0000)" font-size="48.00" fill="#000">ε</text><text class="r" transform="translate(843.26,1429.85)" font-size="50.00" fill="#000">˙</text><text class="r" transform="translate(864.68,1425.60) scale(0.8668,1.0000)" font-size="55.00" fill="#000" stroke="#fff" stroke-width="0.45">, </text><text class="i" transform="translate(901.52,1425.60) scale(1.1598,1.0000)" font-size="48.00" fill="#000">s</text><text class="r" transform="translate(928.79,1411.58) scale(1.5943,1)" font-size="43.00">−</text><text class="r" transform="translate(971.96,1408.00) scale(1.1494,1.0000)" font-size="43.00" fill="#000">1</text></g>
</svg>
</body>
</html>
